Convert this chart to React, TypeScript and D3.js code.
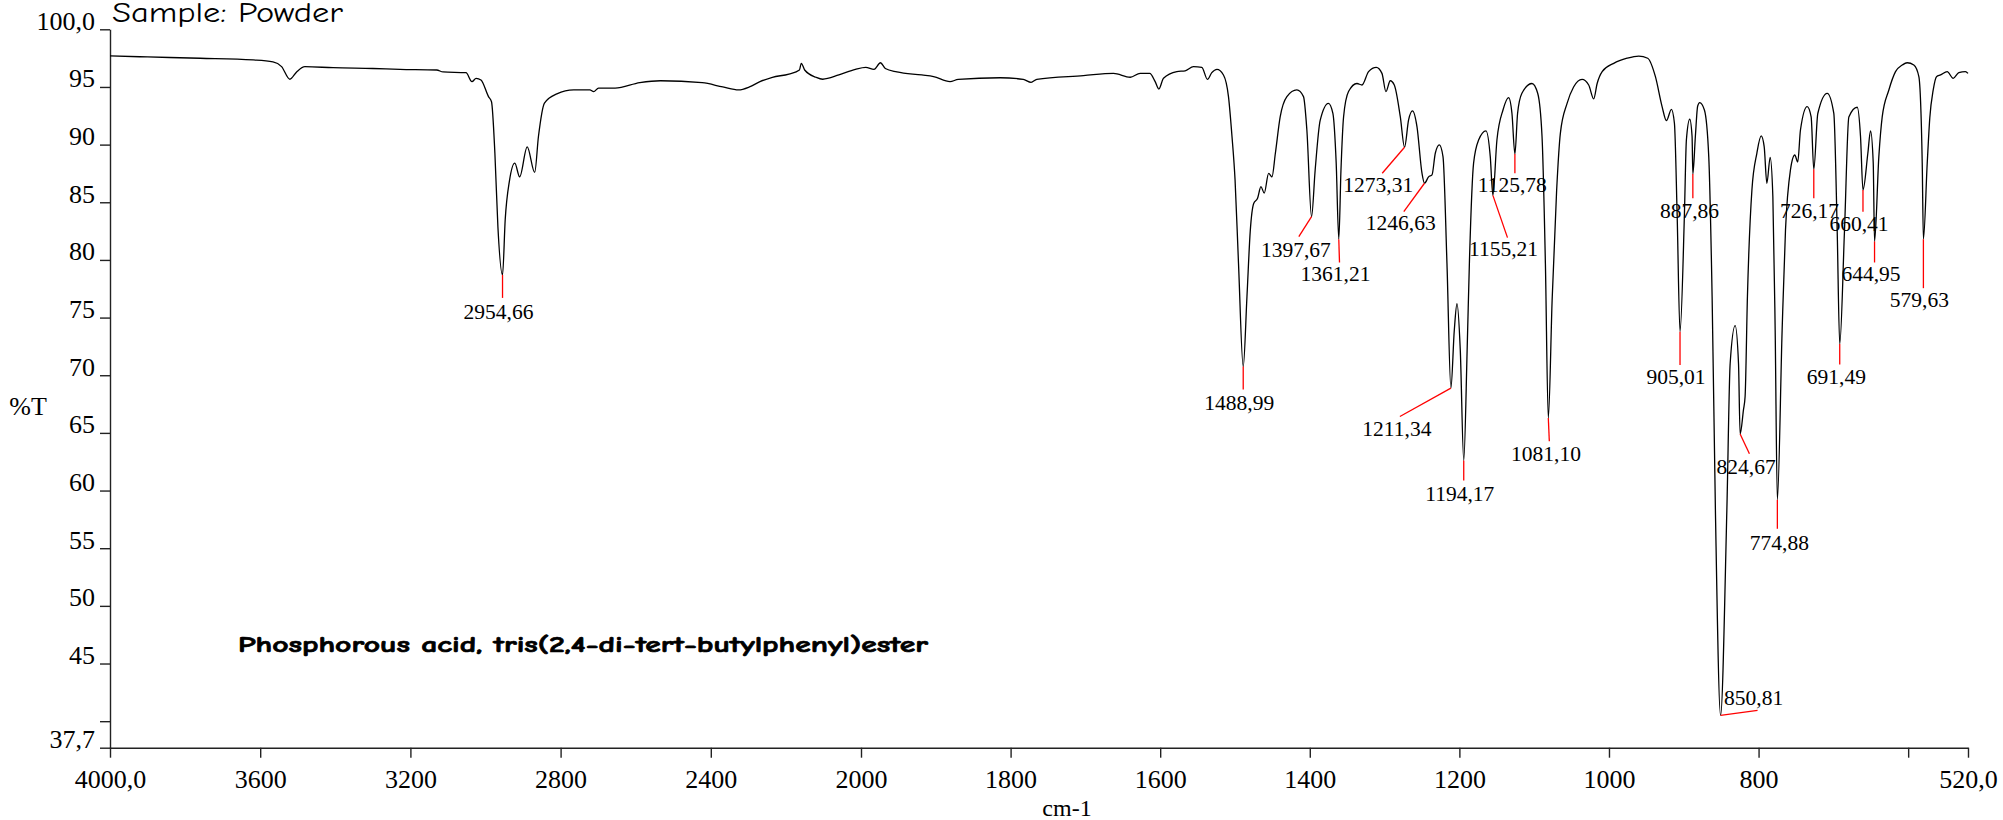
import React, { useEffect, useRef } from 'react';
import * as d3 from 'd3';

// IR spectrum: [wavenumber cm-1, %T]
const spectrum: [number, number][] = [
  [4000, 97.69], [3900, 97.6], [3760, 97.49], [3619, 97.34], [3566, 97.17],
  [3543, 96.76], [3521, 95.67], [3503, 96.3], [3481, 96.76], [3406, 96.67],
  [3300, 96.6], [3228, 96.53], [3130, 96.47], [3113, 96.3], [3052, 96.24],
  [3036, 95.46], [3025, 95.75], [3012, 95.6], [2992, 94.16], [2984, 93.72],
  [2975, 89.25], [2967, 82.9], [2954.66, 78.7], [2947.5, 83.5], [2936, 86.9],
  [2922, 88.4], [2909, 87.2], [2889, 89.8], [2869, 87.6], [2859, 90.7],
  [2843, 93.6], [2810, 94.4], [2765, 94.74], [2722, 94.74], [2712, 94.6],
  [2699, 94.9], [2655, 94.9], [2589, 95.37], [2534, 95.54], [2423, 95.37],
  [2368, 95.0], [2326, 94.74], [2297, 95.0], [2269, 95.46], [2236, 95.84],
  [2192, 96.12], [2164, 96.47], [2159, 97.05], [2150, 96.47], [2120, 95.84],
  [2102, 95.67], [2059, 96.04], [2015, 96.53], [1993.6, 96.7], [1982.6, 96.53],
  [1974, 97.1], [1967.5, 96.6], [1952, 96.3], [1918.7, 96.04], [1903, 95.9],
  [1881, 95.46], [1870, 95.66], [1814, 95.8], [1783, 95.66], [1772.6, 95.4],
  [1765, 95.66], [1702.6, 95.98], [1662.5, 96.18], [1640, 95.84], [1626.8, 96.18],
  [1614, 96.18], [1606.7, 95.46], [1601.8, 94.82], [1595.6, 95.75], [1577.7, 96.33],
  [1566.6, 96.4], [1555.5, 96.76], [1544.3, 96.7], [1536.8, 95.66], [1531, 96.24],
  [1524.1, 96.53], [1515.4, 96.04], [1508.7, 94.16], [1504, 90.7], [1499.9, 86.94],
  [1495.3, 79.7], [1488.99, 70.75], [1484, 76.8], [1479.6, 82.5], [1475, 84.9],
  [1469.8, 85.35], [1465.3, 86.35], [1460.9, 85.8], [1455, 87.5], [1450.6, 87.2],
  [1446, 89.25], [1439.6, 92.4], [1430.6, 94.16], [1417.3, 94.74], [1408.4, 94.16],
  [1403.9, 91.27], [1397.67, 83.75], [1392.8, 87.8], [1386.1, 92.1], [1375, 93.58],
  [1369.1, 92.7], [1364.7, 88.4], [1361.21, 81.8], [1358.3, 87.8], [1354.8, 92.42],
  [1348.2, 94.6], [1336.9, 95.3], [1330.2, 95.17], [1321.4, 96.33], [1311.1, 96.7],
  [1303.5, 96.18], [1298.2, 94.6], [1292.4, 95.54], [1287, 95.17], [1279, 92.42],
  [1273.31, 89.77], [1267.9, 92.14], [1262.6, 92.92], [1256.7, 91.56], [1250, 87.52],
  [1246.63, 86.65], [1241.2, 87.2], [1236.6, 87.37], [1232.2, 89.25], [1226.8, 89.97],
  [1221.9, 88.96], [1216.6, 79.7], [1211.34, 68.88], [1206.8, 73.9], [1203.2, 76.2],
  [1198.8, 72.2], [1194.17, 62.6], [1189.5, 72.5], [1186.5, 80], [1181, 88.4],
  [1174.3, 90.4], [1164.4, 91.2], [1158.7, 88.96], [1155.21, 85.6], [1149.8, 90.4],
  [1141.7, 93.0], [1134.2, 94.07], [1129.7, 92.7], [1125.78, 89.19], [1122.2, 92.7],
  [1116.4, 94.45], [1103, 95.3], [1095.3, 94.45], [1089.5, 90.7], [1085, 79.7],
  [1081.1, 66.3], [1076, 76.5], [1070, 86], [1065, 90.98], [1056, 93.58],
  [1047.3, 95.0], [1036, 95.66], [1027.1, 95.17], [1020.4, 93.96], [1015.8, 95.3],
  [1009.1, 96.33], [993.6, 97.05], [975.8, 97.49], [960.2, 97.68], [948.2, 97.49],
  [937.9, 95.89], [929, 93.3], [923.2, 92.08], [916.5, 93.06], [912.5, 91.85],
  [908.9, 84.05], [905.01, 73.78], [899.1, 84.05], [896.5, 90.4], [892, 92.2],
  [888.9, 90.7], [887.86, 87.45], [884.5, 90.7], [881.4, 93.35], [878.7, 93.64],
  [872.4, 93.0], [866.6, 88.96], [862.1, 76.8], [857.7, 58.3], [850.81, 40.5],
  [842.4, 58.3], [838, 71.0], [831.3, 74.3], [826.8, 71.0], [824.67, 64.9],
  [820.2, 67.0], [818, 68.15], [814.9, 76.8], [808.9, 86.07], [802.3, 89.25],
  [796.5, 90.75], [792.5, 89.82], [788.9, 86.65], [784.5, 88.9], [780.9, 85.5],
  [777.8, 73.9], [774.88, 59.2], [768.5, 73.9], [764, 82.6], [757.4, 87.8],
  [751.6, 89.1], [747.6, 88.5], [744, 91.27], [735, 93.3], [729.7, 92.4],
  [726.17, 87.86], [720.8, 92.7], [708.2, 94.45], [699.4, 92.7], [694.9, 82.6],
  [691.49, 72.7], [685.1, 82.6], [679.3, 92.4], [668.1, 93.24], [663.7, 90.7],
  [660.41, 86.07], [653.9, 89.25], [650.3, 91.2], [646.7, 88.4], [644.95, 81.6],
  [639.2, 88.96], [634.7, 92.4], [625.8, 94.74], [616.9, 96.33], [607.9, 96.9],
  [601.3, 97.1], [592.4, 96.9], [585.7, 95.89], [581.2, 88.4], [579.63, 81.8],
  [574.5, 88.4], [571.1, 92.3], [566.5, 94.74], [562.1, 95.89], [556.7, 96.04],
  [547.8, 96.33], [539.8, 95.75], [532.3, 96.24], [523.4, 96.33], [520, 96.18]
];

const peakWavenumbers = [
  2954.66, 1488.99, 1397.67, 1361.21, 1273.31, 1246.63, 1211.34, 1194.17, 1155.21,
  1125.78, 1081.1, 905.01, 887.86, 850.81, 824.67, 774.88, 726.17, 691.49, 660.41,
  644.95, 579.63
];
const peakLabels = [
  "2954,66", "1488,99", "1397,67", "1361,21", "1273,31", "1246,63", "1211,34", "1194,17",
  "1155,21", "1125,78", "1081,10", "905,01", "887,86", "850,81", "824,67", "774,88",
  "726,17", "691,49", "660,41", "644,95", "579,63"
];

const yTickValues = [100, 95, 90, 85, 80, 75, 70, 65, 60, 55, 50, 45, 40, 37.7];
const yTickLabels = ["100,0", "95", "90", "85", "80", "75", "70", "65", "60", "55", "50", "45", "", "37,7"];
const xTickValues = [4000, 3600, 3200, 2800, 2400, 2000, 1800, 1600, 1400, 1200, 1000, 800, 600, 520];
const xTickLabels = ["4000,0", "3600", "3200", "2800", "2400", "2000", "1800", "1600", "1400", "1200", "1000", "800", "", "520,0"];

// leader line end (px from band minimum) and label offset from that end: [dx, dy, lx, ly]
const leaderLayout: [number, number, number, number][] = [
  [0, 23, -4, 21], [0, 23, -4, 20], [-12.7, 20, -3, 20], [0.7, 23.4, -4, 18],
  [-22.3, 26, -4, 18.4], [-20.7, 28.4, -3, 18.3], [-51, 28.4, -3, 19.3], [0, 20, -4, 20],
  [14.6, 42.3, -4, 18.7], [0, 19.3, -2.6, 18.4], [1, 23.4, -3.3, 20], [0, 33.3, -4, 19],
  [0, 24.3, -3.3, 20], [37, -5, -4, -5], [9.3, 19.7, -3.3, 20.3], [0, 29, 2, 21],
  [0, 29, -4.3, 20], [0, 20.3, -3.4, 19.7], [0, 21.7, -4, 19], [0, 21, -3.6, 19],
  [0, 49, -4, 19]
];

const serif = "'Liberation Serif', 'Times New Roman', serif";
const comic = "'Comic Sans MS', 'Comic Neue', 'DejaVu Sans', sans-serif";

export default function App() {
  const svgRef = useRef<SVGSVGElement | null>(null);

  useEffect(() => {
    if (!svgRef.current) return;
    const width = 2003;
    const height = 820;

    const svg = d3.select(svgRef.current);
    svg.selectAll("*").remove();
    svg.attr("width", width).attr("height", height);

    // wavenumber axis is expanded 2x below 2000 cm-1
    const x = d3.scaleLinear().domain([4000, 2000, 520]).range([110, 861, 1968]);
    const y = d3.scaleLinear().domain([37.7, 100]).range([747.7, 29.3]);

    // y axis
    const yAxis = d3.axisLeft(y)
      .tickValues(yTickValues)
      .tickSize(10)
      .tickSizeOuter(0)
      .tickPadding(5)
      .tickFormat((_, i) => yTickLabels[i]);
    const gy = svg.append("g").attr("transform", "translate(110,0)").call(yAxis);
    gy.selectAll("text")
      .attr("dy", "0")
      .attr("font-family", serif)
      .attr("font-size", "26px")
      .attr("fill", "#000");

    // x axis
    const xAxis = d3.axisBottom(x)
      .tickValues(xTickValues)
      .tickSize(10)
      .tickSizeOuter(0)
      .tickPadding(12)
      .tickFormat((_, i) => xTickLabels[i]);
    const gx = svg.append("g").attr("transform", "translate(0,747.7)").call(xAxis);
    gx.selectAll("text")
      .attr("font-family", serif)
      .attr("font-size", "26px")
      .attr("fill", "#000");

    [gx, gy].forEach(g => {
      g.selectAll("path, line").attr("stroke", "#222").attr("stroke-width", 1.4);
    });

    // axis titles
    svg.append("text")
      .attr("x", 28).attr("y", 415)
      .attr("text-anchor", "middle")
      .attr("font-family", serif).attr("font-size", "26px")
      .text("%T");
    svg.append("text")
      .attr("x", 1067).attr("y", 816)
      .attr("text-anchor", "middle")
      .attr("font-family", serif).attr("font-size", "24px")
      .text("cm-1");

    svg.append("text")
      .attr("x", 112).attr("y", 22)
      .attr("font-family", comic).attr("font-size", "28px")
      .attr("textLength", 231).attr("lengthAdjust", "spacingAndGlyphs")
      .text("Sample: Powder");

    svg.append("text")
      .attr("x", 238).attr("y", 652)
      .attr("font-family", comic).attr("font-size", "22px").attr("font-weight", "bold")
      .attr("stroke", "#000").attr("stroke-width", 0.7)
      .attr("textLength", 690).attr("lengthAdjust", "spacingAndGlyphs")
      .text("Phosphorous acid, tris(2,4-di-tert-butylphenyl)ester");

    // spectrum trace
    const line = d3.line<[number, number]>()
      .x(d => x(d[0]))
      .y(d => y(d[1]))
      .curve(d3.curveMonotoneX);
    svg.append("path")
      .datum(spectrum)
      .attr("fill", "none")
      .attr("stroke", "#000")
      .attr("stroke-width", 1.3)
      .attr("stroke-linejoin", "round")
      .attr("d", line);

    // peak leaders and labels
    const peaks = svg.append("g");
    peakWavenumbers.forEach((wn, i) => {
      const pt = spectrum.find(p => p[0] === wn);
      if (!pt) return;
      const px = x(wn);
      const py = y(pt[1]);
      const [dx, dy, lx, ly] = leaderLayout[i];
      peaks.append("line")
        .attr("x1", px).attr("y1", py)
        .attr("x2", px + dx).attr("y2", py + dy)
        .attr("stroke", "#ff0000")
        .attr("stroke-width", 1.3);
      peaks.append("text")
        .attr("x", px + dx + lx).attr("y", py + dy + ly)
        .attr("text-anchor", "middle")
        .attr("font-family", serif)
        .attr("font-size", "21.5px")
        .attr("fill", "#000")
        .text(peakLabels[i]);
    });
  }, []);

  return (
    <svg ref={svgRef} style={{ position: "absolute", left: 0, top: 0, background: "#fff" }} />
  );
}
